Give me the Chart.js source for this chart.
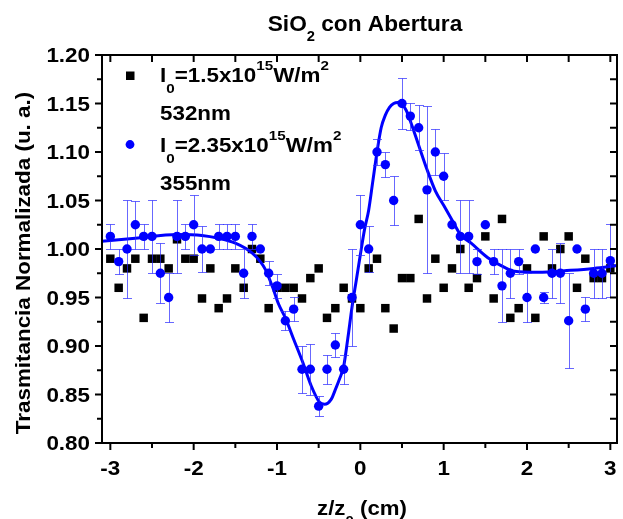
<!DOCTYPE html>
<html>
<head>
<meta charset="utf-8">
<script src="https://cdn.jsdelivr.net/npm/chart.js@4.4.1/dist/chart.umd.min.js"></script>
<style>
  html, body { margin: 0; padding: 0; background: #fff; }
</style>
</head>
<body>
<canvas id="chart" width="623" height="519"></canvas>
<script>
// --- data ---
const zBlue = [-3.0, -2.9, -2.8, -2.7, -2.6, -2.5, -2.4, -2.3, -2.2, -2.1,
               -2.0, -1.9, -1.8, -1.7, -1.6, -1.5, -1.4, -1.3, -1.2, -1.1,
               -1.0, -0.9, -0.8, -0.7, -0.6, -0.5, -0.4, -0.3, -0.2, -0.1,
                0.0,  0.1,  0.2,  0.3,  0.4,  0.5,  0.6,  0.7,  0.8,  0.9,
                1.0,  1.1,  1.2,  1.3,  1.4,  1.5,  1.6,  1.7,  1.8,  1.9,
                2.0,  2.1,  2.2,  2.3,  2.4,  2.5,  2.6,  2.7,  2.8,  2.9, 3.0];
const tBlue = [1.013, 0.987, 1.000, 1.025, 1.013, 1.013, 0.975, 0.950, 1.013, 1.013,
               1.025, 1.000, 1.000, 1.013, 1.013, 1.013, 0.975, 1.013, 1.000, 0.975,
               0.962, 0.926, 0.938, 0.876, 0.876, 0.838, 0.876, 0.901, 0.876, 0.950,
               1.025, 1.000, 1.100, 1.087, 1.050, 1.150, 1.137, 1.125, 1.061, 1.100,
               1.075, 1.025, 1.013, 1.013, 0.987, 1.025, 0.987, 0.962, 0.975, 0.987,
               0.950, 1.000, 0.950, 0.975, 0.975, 0.926, 1.000, 0.938, 0.975, 0.975, 0.988];
const errBlue = [0.013, 0.0125, 0.05, 0.025, 0.013, 0.0375, 0.031, 0.025, 0.0375, 0.013,
                 0.031, 0.024, 0, 0.013, 0.013, 0.013, 0.025, 0.013, 0, 0.0125,
                 0.0125, 0.01, 0.0125, 0.024, 0.026, 0.01, 0.015, 0.0125, 0.015, 0.05,
                 0.031, 0.024, 0.013, 0.0125, 0.025, 0.026, 0.014, 0.023, 0.086, 0.024,
                 0.024, 0, 0.0375, 0.0375, 0.0125, 0, 0.0125, 0.0375, 0.025, 0.0125,
                 0.025, 0, 0.006, 0.025, 0.031, 0.049, 0, 0.0127, 0.025, 0.025, 0.0375];

const zBlack = [-3.0, -2.9, -2.8, -2.7, -2.6, -2.5, -2.4, -2.3, -2.2, -2.1,
                -2.0, -1.9, -1.8, -1.7, -1.6, -1.5, -1.4, -1.3, -1.2, -1.1,
                -1.0, -0.9, -0.8, -0.7, -0.6, -0.5, -0.4, -0.3, -0.2, -0.1,
                 0.0,  0.1,  0.2,  0.3,  0.4,  0.5,  0.6,  0.7,  0.8,  0.9,
                 1.0,  1.1,  1.2,  1.3,  1.4,  1.5,  1.6,  1.7,  1.8,  1.9,
                 2.0,  2.1,  2.2,  2.3,  2.4,  2.5,  2.6,  2.7,  2.8,  2.9, 3.0];
const tBlack = [0.990, 0.960, 0.980, 0.990, 0.929, 0.990, 0.990, 0.980, 1.010, 0.990,
                0.990, 0.949, 0.980, 0.939, 0.949, 0.980, 0.960, 1.000, 0.990, 0.939,
                0.960, 0.960, 0.960, 0.949, 0.970, 0.980, 0.929, 0.939, 0.960, 0.949,
                0.939, 0.980, 0.990, 0.939, 0.918, 0.970, 0.970, 1.031, 0.949, 0.990,
                0.960, 0.980, 1.000, 0.960, 0.970, 1.013, 0.949, 1.031, 0.929, 0.939,
                0.980, 0.929, 1.013, 0.980, 1.000, 1.013, 0.960, 0.990, 0.970, 0.970, 0.980];

// fitted curve (355nm), traced point by point
const zFit = [-3.1, -2.7, -2.2, -1.9, -1.7, -1.5, -1.3, -1.2, -1.14, -1.05,
              -0.98, -0.9, -0.8, -0.69, -0.59, -0.49, -0.43, -0.35, -0.3, -0.25,
              -0.2, -0.15, -0.1, -0.05, 0.0, 0.05, 0.1, 0.15, 0.2, 0.25,
               0.3, 0.35, 0.4, 0.45, 0.5, 0.55, 0.6, 0.7, 0.8, 0.9,
               1.0, 1.1, 1.2, 1.33, 1.53, 1.73, 1.85, 2.13, 2.52, 2.8, 3.08];
const tFit = [1.008, 1.011, 1.015, 1.014, 1.011, 1.006, 0.996, 0.987, 0.979, 0.960,
              0.943, 0.929, 0.907, 0.883, 0.859, 0.842, 0.840, 0.845, 0.855, 0.866,
              0.879, 0.908, 0.940, 0.967, 0.994, 1.020, 1.040, 1.070, 1.100, 1.125,
              1.138, 1.146, 1.150, 1.151, 1.149, 1.143, 1.132, 1.107, 1.082, 1.060,
              1.045, 1.030, 1.015, 1.006, 0.991, 0.981, 0.977, 0.976, 0.978, 0.980, 0.983];

const xTicks = [-3, -2, -1, 0, 1, 2, 3];
const xTickLabels = ['-3', '-2', '-1', '0', '1', '2', '3'];
const xMinor = [-2.5, -1.5, -0.5, 0.5, 1.5, 2.5];
const yTicks = [0.80, 0.85, 0.90, 0.95, 1.00, 1.05, 1.10, 1.15, 1.20];
const yTickLabels = ['0.80', '0.85', '0.90', '0.95', '1.00', '1.05', '1.10', '1.15', '1.20'];
const yMinor = [0.825, 0.875, 0.925, 0.975, 1.025, 1.075, 1.125, 1.175];

const BLUE = '#0000ff';
const FONT = '"Liberation Sans", Arial, sans-serif';

// draw bold text with sub/superscripts, slightly widened like the original export
function drawRich(ctx, parts, x, y, o) {
    const small = o.size * (o.small || 0.68);
    let w = 0;
    parts.forEach(p => {
        ctx.font = 'bold ' + (p[1] ? small : o.size) + 'px ' + FONT;
        w += ctx.measureText(p[0]).width;
    });
    ctx.save();
    ctx.translate(x, y);
    if (o.rotate) ctx.rotate(o.rotate);
    ctx.scale(o.sx || 1, 1);
    let cx = o.align === 'center' ? -w / 2 : o.align === 'right' ? -w : 0;
    ctx.fillStyle = '#000';
    ctx.textAlign = 'left';
    ctx.textBaseline = 'alphabetic';
    parts.forEach(p => {
        ctx.font = 'bold ' + (p[1] ? small : o.size) + 'px ' + FONT;
        const dy = p[1] === 'sub' ? o.subDy : p[1] === 'sup' ? -o.supDy : 0;
        ctx.fillText(p[0], cx, dy || 0);
        cx += ctx.measureText(p[0]).width;
    });
    ctx.restore();
}

function line(ctx, x1, y1, x2, y2) {
    ctx.beginPath();
    ctx.moveTo(x1, y1);
    ctx.lineTo(x2, y2);
    ctx.stroke();
}

// error bars under the blue circles
const errorBars = {
    id: 'errorBars',
    beforeDatasetDraw(chart, args) {
        if (args.index !== 2) return;
        const ctx = chart.ctx, xs = chart.scales.x, ys = chart.scales.y;
        ctx.save();
        ctx.strokeStyle = 'rgba(40,40,255,0.7)';
        ctx.lineWidth = 1;
        zBlue.forEach((z, i) => {
            const e = errBlue[i];
            if (!e) return;
            const px = Math.round(xs.getPixelForValue(z)) + 0.5;
            const top = Math.round(ys.getPixelForValue(tBlue[i] + e)) + 0.5;
            const bot = Math.round(ys.getPixelForValue(tBlue[i] - e)) + 0.5;
            line(ctx, px, top, px, bot);
            line(ctx, px - 4.5, top, px + 4.5, top);
            line(ctx, px - 4.5, bot, px + 4.5, bot);
        });
        ctx.restore();
    }
};

// frame, ticks, labels, titles and legend
const decorations = {
    id: 'decorations',
    afterDraw(chart) {
        const ctx = chart.ctx, xs = chart.scales.x, ys = chart.scales.y, a = chart.chartArea;
        ctx.save();
        ctx.strokeStyle = '#000';
        ctx.lineWidth = 2;
        ctx.strokeRect(a.left, a.top, a.right - a.left, a.bottom - a.top);

        xTicks.forEach(v => {
            const px = xs.getPixelForValue(v);
            line(ctx, px, a.bottom, px, a.bottom + 7);
            line(ctx, px, a.top, px, a.top + 7);
        });
        xMinor.forEach(v => {
            const px = xs.getPixelForValue(v);
            line(ctx, px, a.bottom, px, a.bottom + 5);
            line(ctx, px, a.top, px, a.top + 7);
        });
        yTicks.forEach(v => {
            const py = ys.getPixelForValue(v);
            line(ctx, a.left - 7, py, a.left, py);
            line(ctx, a.right - 7, py, a.right, py);
        });
        yMinor.forEach(v => {
            const py = ys.getPixelForValue(v);
            line(ctx, a.left - 5, py, a.left, py);
            line(ctx, a.right - 7, py, a.right, py);
        });

        const tick = { size: 20, sx: 1.12 };
        xTicks.forEach((v, i) => {
            drawRich(ctx, [[xTickLabels[i]]], xs.getPixelForValue(v), 475, { ...tick, align: 'center' });
        });
        yTicks.forEach((v, i) => {
            drawRich(ctx, [[yTickLabels[i]]], 90, ys.getPixelForValue(v) + 7, { ...tick, align: 'right' });
        });

        // title
        drawRich(ctx, [['SiO'], ['2', 'sub'], [' con Abertura']], 365, 31,
            { size: 22, sx: 1.03, align: 'center', small: 0.65, subDy: 10 });
        // axis titles
        drawRich(ctx, [['z/z'], ['0', 'sub'], [' (cm)']], 362, 515,
            { size: 20, sx: 1.11, align: 'center', small: 0.68, subDy: 10 });
        drawRich(ctx, [['Trasmitancia Normalizada (u. a.)']], 30, 263,
            { size: 20, sx: 1.12, align: 'center', rotate: -Math.PI / 2 });

        // legend
        ctx.fillStyle = '#000';
        ctx.fillRect(126, 71.5, 8.5, 8.5);
        ctx.fillStyle = BLUE;
        ctx.beginPath();
        ctx.arc(130, 144.5, 4.4, 0, Math.PI * 2);
        ctx.fill();
        const leg = { size: 20, sx: 1.12, small: 0.68, subDy: 11, supDy: 12 };
        drawRich(ctx, [['I'], ['0', 'sub'], ['=1.5x10'], ['15', 'sup'], ['W/m'], ['2', 'sup']], 160, 82, leg);
        drawRich(ctx, [['532nm']], 160, 120, leg);
        drawRich(ctx, [['I'], ['0', 'sub'], ['=2.35x10'], ['15', 'sup'], ['W/m'], ['2', 'sup']], 160, 152, leg);
        drawRich(ctx, [['355nm']], 160, 190, leg);
        ctx.restore();
    }
};

const ctx = document.getElementById('chart').getContext('2d');
new Chart(ctx, {
    type: 'scatter',
    data: {
        datasets: [
            {
                label: '532nm',
                data: zBlack.map((z, i) => ({ x: z, y: tBlack[i] })),
                pointStyle: 'rect',
                pointRadius: 6,
                pointBackgroundColor: '#000',
                pointBorderWidth: 0,
                order: 3
            },
            {
                label: 'ajuste',
                data: zFit.map((z, i) => ({ x: z, y: tFit[i] })),
                showLine: true,
                pointRadius: 0,
                borderColor: BLUE,
                borderWidth: 3,
                cubicInterpolationMode: 'monotone',
                order: 2
            },
            {
                label: '355nm',
                data: zBlue.map((z, i) => ({ x: z, y: tBlue[i] })),
                pointStyle: 'circle',
                pointRadius: 4.7,
                pointBackgroundColor: BLUE,
                pointBorderWidth: 0,
                order: 1
            }
        ]
    },
    options: {
        responsive: false,
        devicePixelRatio: 1,
        animation: false,
        events: [],
        layout: { padding: { top: 55, right: 3, bottom: 0, left: 0 } },
        plugins: { legend: { display: false }, tooltip: { enabled: false } },
        scales: {
            x: {
                type: 'linear', min: -3.1, max: 3.08,
                grid: { display: false }, border: { display: false },
                ticks: { display: false },
                afterFit(s) { s.height = 76; }
            },
            y: {
                type: 'linear', min: 0.8, max: 1.2,
                grid: { display: false }, border: { display: false },
                ticks: { display: false },
                afterFit(s) { s.width = 102; }
            }
        }
    },
    plugins: [errorBars, decorations]
});
</script>
</body>
</html>
